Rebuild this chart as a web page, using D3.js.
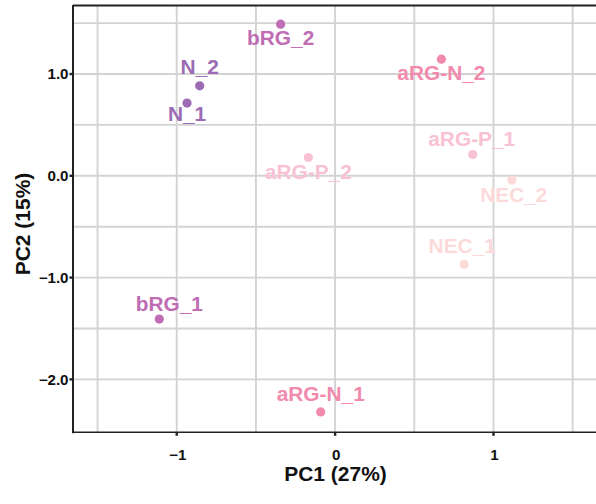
<!DOCTYPE html>
<html>
<head>
<meta charset="utf-8">
<script src="https://cdn.jsdelivr.net/npm/d3@7"></script>
<style>
  html, body { margin: 0; padding: 0; background: #fff; }
  svg { display: block; }
  text { font-family: "Liberation Sans", Arial, Helvetica, sans-serif; font-weight: bold; }
</style>
</head>
<body>
<svg id="chart" width="596" height="504"></svg>
<script>
// ---- data ----
const samples = ["bRG_2", "N_2", "N_1", "aRG-N_2", "aRG-P_2", "aRG-P_1", "NEC_2", "NEC_1", "bRG_1", "aRG-N_1"];
const groups  = ["bRG", "N", "N", "aRG-N", "aRG-P", "aRG-P", "NEC", "NEC", "bRG", "aRG-N"];
const pc1 = [-0.344, -0.855, -0.935, 0.671, -0.169, 0.869, 1.116, 0.815, -1.11, -0.091];
const pc2 = [1.49, 0.884, 0.714, 1.146, 0.18, 0.209, -0.042, -0.871, -1.408, -2.32];
const groupNames  = ["N", "bRG", "aRG-N", "aRG-P", "NEC"];
const groupColors = ["#9b6bb5", "#bf6db4", "#f28aae", "#f8c2d4", "#fddada"];
const xTicks = [-1, 0, 1];
const yTicks = [1, 0, -1, -2];
const xTickLabels = ["\u22121", "0", "1"];
const yTickLabels = ["1.0", "0.0", "\u22121.0", "\u22122.0"];
const xMinor = [-1.5, -0.5, 0.5, 1.5];
const yMinor = [1.5, 0.5, -0.5, -1.5];
// label placement offsets (px) relative to each point (repel-like layout)
const labelDx = [0, 0, 0, 0, 0, -1, 2, -2, 10, 0];
const labelDy = [21, -12, 18, 21, 22, -9, 22, -11, -8, -11];

// ---- layout ----
const svg = d3.select("#chart");
const pLeft = 73, pTop = 5, pRight = 598, pBottom = 432.3;
const x = d3.scaleLinear().domain([-1.655, 1.66]).range([pLeft, pRight]);
const y = d3.scaleLinear().domain([-2.52, 1.678]).range([pBottom, pTop]);
const color = d3.scaleOrdinal().domain(groupNames).range(groupColors);

const grid = svg.append("g");
const gridColor = "#d3d3d3";
[...xTicks, ...xMinor].forEach(v => {
  grid.append("line").attr("x1", x(v)).attr("x2", x(v)).attr("y1", pTop).attr("y2", pBottom)
    .attr("stroke", gridColor).attr("stroke-width", 1.9);
});
[...yTicks, ...yMinor].forEach(v => {
  grid.append("line").attr("x1", pLeft).attr("x2", 596).attr("y1", y(v)).attr("y2", y(v))
    .attr("stroke", gridColor).attr("stroke-width", 1.9);
});

// axis lines / border
svg.append("line").attr("x1", pLeft).attr("x2", 596).attr("y1", pTop + 0.5).attr("y2", pTop + 0.5)
  .attr("stroke", "#222").attr("stroke-width", 2.2);
svg.append("line").attr("x1", pLeft).attr("x2", pLeft).attr("y1", pTop).attr("y2", pBottom + 1)
  .attr("stroke", "#222").attr("stroke-width", 2);
svg.append("line").attr("x1", pLeft).attr("x2", 596).attr("y1", pBottom).attr("y2", pBottom)
  .attr("stroke", "#222").attr("stroke-width", 1.5);

// ticks
xTicks.forEach((v, i) => {
  svg.append("line").attr("x1", x(v)).attr("x2", x(v)).attr("y1", pBottom).attr("y2", pBottom + 3.5)
    .attr("stroke", "#222").attr("stroke-width", 2.4);
  svg.append("text").attr("transform", `translate(${x(v) + 1},459.5) scale(1.08,1)`).attr("text-anchor", "middle")
    .attr("font-size", 14).attr("fill", "#111").text(xTickLabels[i]);
});
yTicks.forEach((v, i) => {
  svg.append("line").attr("x1", pLeft - 3.5).attr("x2", pLeft).attr("y1", y(v)).attr("y2", y(v))
    .attr("stroke", "#222").attr("stroke-width", 2.4);
  svg.append("text").attr("transform", `translate(68.5,${y(v) + 5.2}) scale(1.08,1)`).attr("text-anchor", "end")
    .attr("font-size", 14).attr("fill", "#111").text(yTickLabels[i]);
});

// axis titles
svg.append("text").attr("transform", "translate(335.5,481) scale(1.05,1)").attr("text-anchor", "middle")
  .attr("font-size", 20).attr("fill", "#111").text("PC1 (27%)");
svg.append("text").attr("transform", "translate(30,224) rotate(-90) scale(1.05,1)").attr("text-anchor", "middle")
  .attr("font-size", 20).attr("fill", "#111").text("PC2 (15%)");

// points
const idx = d3.range(samples.length);
svg.append("g").selectAll("circle").data(idx).join("circle")
  .attr("cx", i => x(pc1[i])).attr("cy", i => y(pc2[i])).attr("r", 4.6)
  .attr("fill", i => color(groups[i]));

// labels
svg.append("g").selectAll("text").data(idx).join("text")
  .attr("transform", i => `translate(${x(pc1[i]) + labelDx[i]},${y(pc2[i]) + labelDy[i]}) scale(1.07,1)`)
  .attr("text-anchor", "middle").attr("font-size", 19.5)
  .attr("fill", i => color(groups[i])).text(i => samples[i]);
</script>
</body>
</html>
